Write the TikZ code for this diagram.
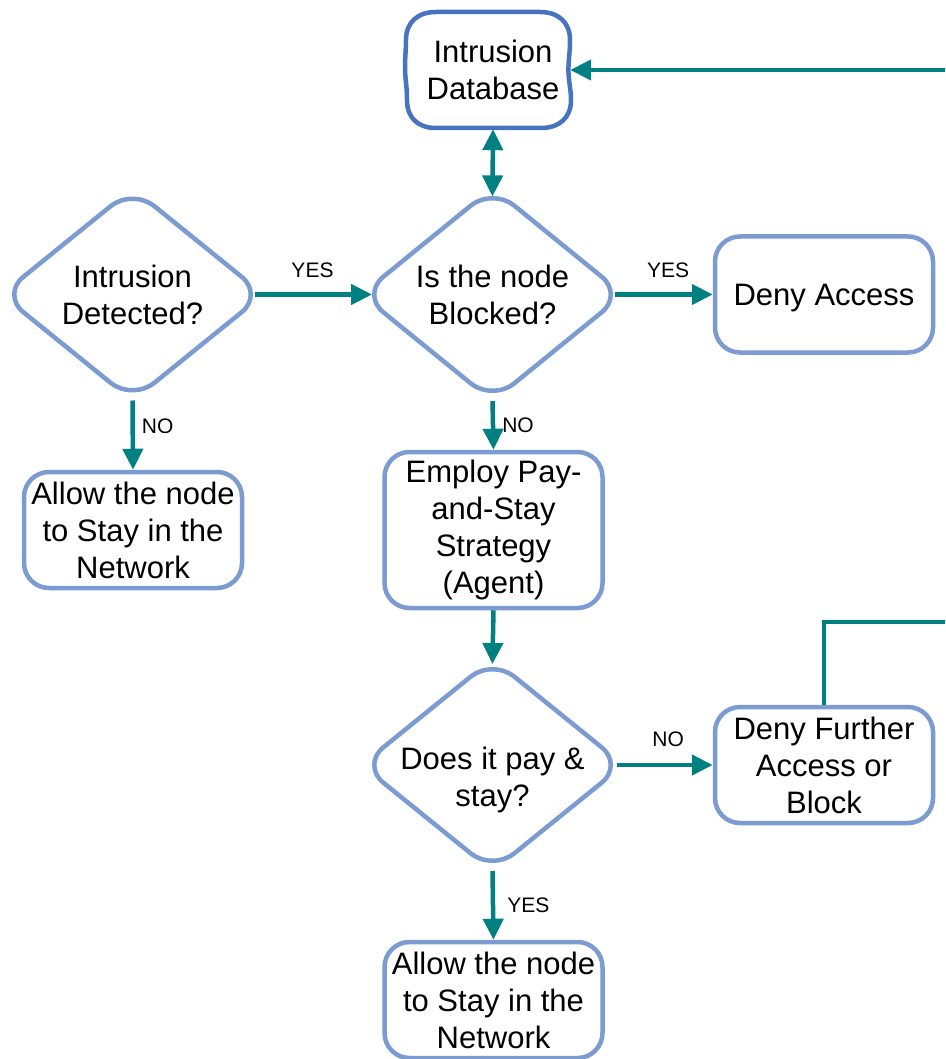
\documentclass[tikz,border=0pt]{standalone}
\usepackage{fontspec}
\setmainfont{Liberation Sans}
\usetikzlibrary{shapes.geometric,arrows.meta,calc}
\definecolor{nodeblue}{RGB}{124,155,208}
\definecolor{dbblue}{RGB}{72,115,192}
\definecolor{connteal}{RGB}{0,128,128}
\begin{document}
\begin{tikzpicture}[x=1pt,y=-1pt,
  mainfont/.style={font=\fontsize{31}{37}\selectfont},
  box/.style={draw=nodeblue,line width=4.5pt,rounded corners=25pt,minimum width=218pt,minimum height=116pt,inner sep=0pt,align=center,mainfont},
  dia/.style={diamond,draw=nodeblue,line width=4.5pt,rounded corners=28pt,minimum width=262pt,minimum height=212pt,inner sep=0pt,outer sep=0pt,align=center,mainfont},
  conn/.style={draw=connteal,line width=4.5pt,-{Triangle[length=21pt,width=20pt]}},
  lbl/.style={font=\fontsize{21}{25}\selectfont,inner sep=1pt,text=black}]
\useasboundingbox (0,0) rectangle (945,1059);
\fill[white] (0,0) rectangle (945,1059);
\clip (0,0) rectangle (945,1059);

% nodes
\node[minimum width=154pt,minimum height=118pt,inner sep=0pt,align=center,mainfont] (db) at (493,70) {Intrusion\\Database};
\begin{scope}[shift={(db.center)}]
\draw[dbblue,line width=4.5pt]
  (-57,-58) -- (47,-58) .. controls (65,-58) and (77,-48) .. (77,-30)
  .. controls (77,-16) and (75,-8) .. (75.5,3)
  .. controls (76,14) and (78,20) .. (78,30)
  .. controls (78,48) and (66,58) .. (48,58)
  -- (-57,58)
  .. controls (-75,58) and (-86,48) .. (-86,30)
  .. controls (-86,16) and (-88,8) .. (-88,-2)
  .. controls (-88,-14) and (-87,-20) .. (-87,-30)
  .. controls (-87,-48) and (-75,-58) .. (-57,-58) -- cycle;
\end{scope}

\node[dia] (d1) at (132.5,294.5) {Intrusion\\Detected?};
\node[dia] (d2) at (492.5,294.5) {Is the node\\Blocked?};
\node[box,text height=22pt,text depth=0pt] (deny) at (824,294.5) {Deny Access};
\node[box] (allowL) at (133,530) {Allow the node\\to Stay in the\\Network};
\node[box,minimum height=156pt] (employ) at (493.5,530) {Employ Pay-\\and-Stay\\Strategy\\(Agent)};
\node[dia,label={[mainfont,align=center,inner sep=0pt,yshift=-15pt]center:Does it pay \&\\stay?}] (d3) at (492.5,765) {};
\node[box] (df) at (824,765) {Deny Further\\Access or\\Block};
\node[box] (allowB) at (493.5,1000) {Allow the node\\to Stay in the\\Network};

% connectors
\draw[conn,shorten <=-9pt,shorten >=-10.5pt] (d1.east) -- node[lbl,above=14pt]{YES} (d2.west);
\draw[conn,shorten <=-8.5pt] (d2.east) -- node[lbl,above=14pt]{YES} (deny.west);
\draw[conn] (d1.south) -- node[lbl,pos=0.37,right=6pt]{NO} (allowL.north);
\draw[conn] (d2.south) -- node[lbl,right=6pt]{NO} (employ.north);
\draw[conn,shorten >=-5pt] (employ.south) -- (d3.north);
\draw[conn,shorten <=-6.5pt] (d3.east) -- node[lbl,above=15pt]{NO} (df.west);
\draw[conn] (d3.south) -- node[lbl,right=11pt]{YES} (allowB.north);
\draw[conn,{Triangle[length=21pt,width=20pt]}-{Triangle[length=21pt,width=20pt]},shorten >=-8.5pt] (db.south) -- (d2.north);
\draw[conn] (df.north) |- (960,622) |- (db.east);
\end{tikzpicture}
\end{document}
